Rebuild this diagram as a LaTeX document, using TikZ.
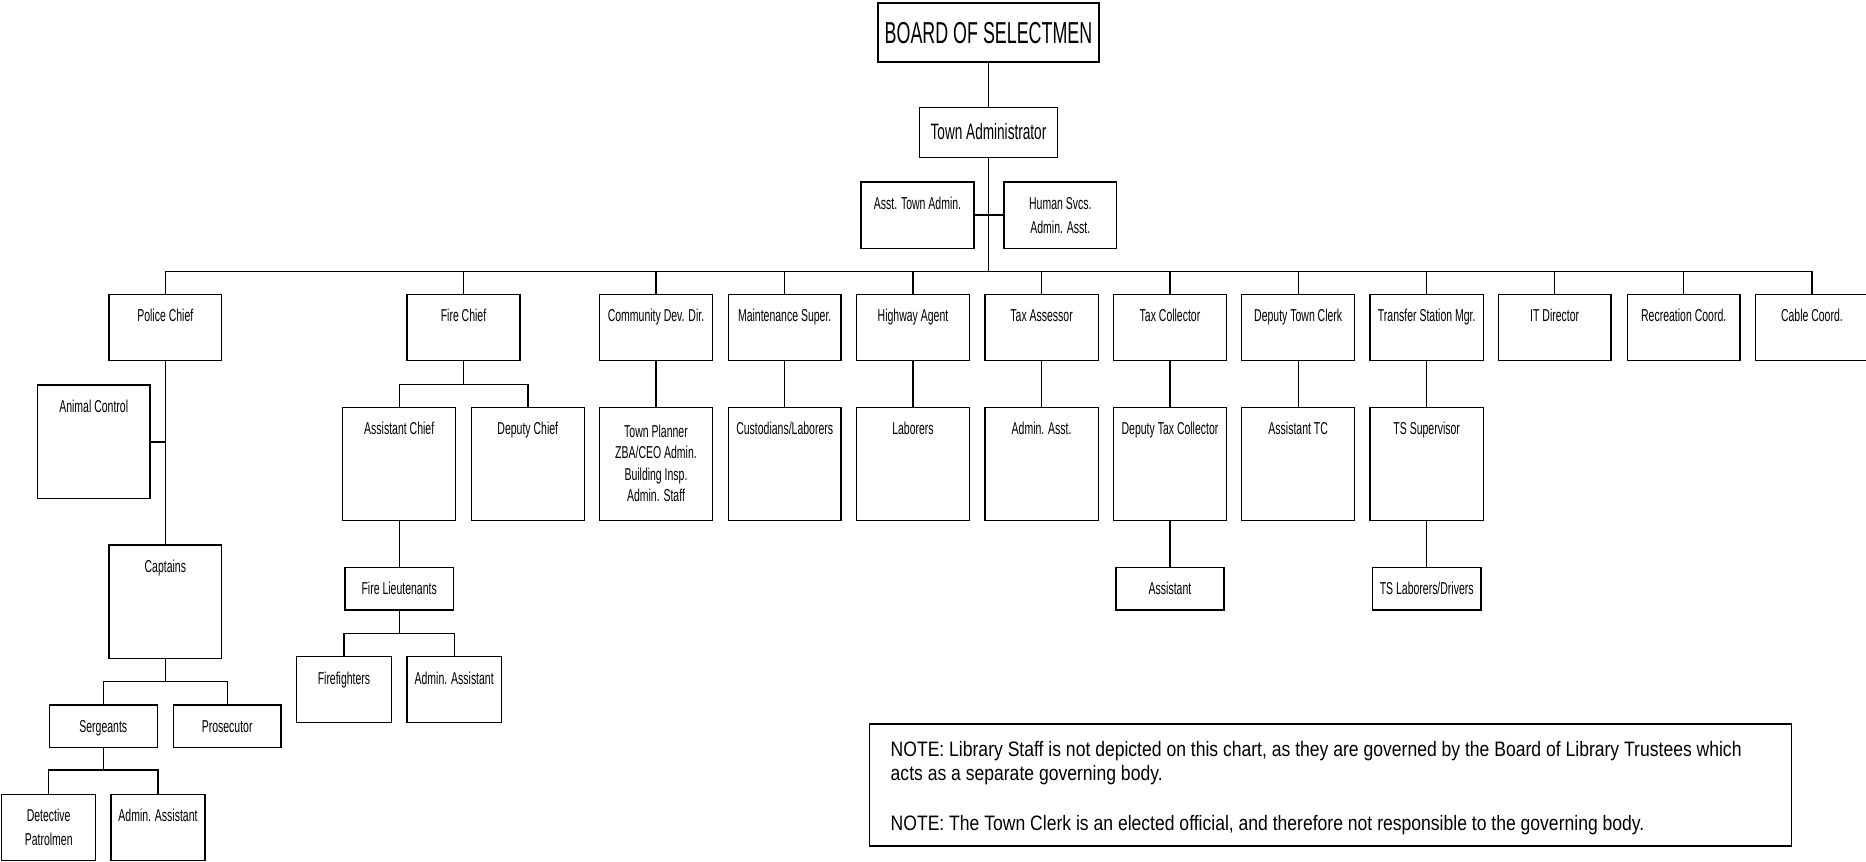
\documentclass[tikz,border=0pt]{standalone}
\usepackage{fontspec}
\setmainfont{Liberation Sans}
\newfontfamily\boxf[FakeStretch=0.61]{Liberation Sans}
\newfontfamily\bigf[FakeStretch=0.59]{Liberation Sans}
\newfontfamily\notef[FakeStretch=0.84]{Liberation Sans}
\newcommand\ml[1]{\begin{tabular}[t]{@{}c@{}}#1\end{tabular}}
\begin{document}
\begin{tikzpicture}[x=1pt,y=-1pt,
  box/.style={draw, line width=1.4pt, inner sep=0pt, outer sep=0pt, font=\boxf\fontsize{17.2}{24}\selectfont},
  sbox/.style={box, text height=27.4pt, text depth=39pt},
  tbox/.style={box, text height=27.4pt, text depth=86pt},
  cbox/.style={box, text height=27pt, text depth=15.5pt},
  link/.style={line width=1.4pt}]
\useasboundingbox (0,0) rectangle (1866,862);
\fill[white] (0,0) rectangle (1866,862);

% top
\node[box, line width=1.6pt, font=\bigf\fontsize{30.3}{36}\selectfont, minimum width=221pt, text height=40.3pt, text depth=18.7pt] (board) at (988.5,32.5) {BOARD OF SELECTMEN};
\node[box, font=\boxf\fontsize{22.3}{26}\selectfont, minimum width=138.4pt, text height=31.6pt, text depth=18pt] (ta) at (988.5,132.5) {Town Administrator};
\node[sbox, minimum width=113pt] (ata) at (917.5,215) {Asst. Town Admin.};
\node[sbox, minimum width=112.7pt] (hsa) at (1060.3,215) {\ml{Human Svcs.\\Admin. Asst.}};

% department heads
\node[sbox, minimum width=112.7pt] (pc) at (165.3,327.5) {Police Chief};
\node[sbox, minimum width=113pt] (fc) at (463.5,327.5) {Fire Chief};
\node[sbox, minimum width=112.6pt] (cd) at (656,327.5) {Community Dev. Dir.};
\node[sbox, minimum width=112.7pt] (ms) at (784.7,327.5) {Maintenance Super.};
\node[sbox, minimum width=112.6pt] (ha) at (913,327.5) {Highway Agent};
\node[sbox, minimum width=113.3pt] (tas) at (1041.6,327.5) {Tax Assessor};
\node[sbox, minimum width=113pt] (tc) at (1170,327.5) {Tax Collector};
\node[sbox, minimum width=112.9pt] (dtc) at (1298.2,327.5) {Deputy Town Clerk};
\node[sbox, minimum width=113.3pt] (tsm) at (1426.7,327.5) {Transfer Station Mgr.};
\node[sbox, minimum width=112.7pt] (it) at (1554.7,327.5) {IT Director};
\node[sbox, minimum width=112.7pt] (rc) at (1683.7,327.5) {Recreation Coord.};
\node[sbox, minimum width=113pt] (cc) at (1811.9,327.5) {Cable Coord.};

% second level
\node[tbox, minimum width=113pt] (ach) at (399.2,464) {Assistant Chief};
\node[tbox, minimum width=113pt] (dch) at (527.8,464) {Deputy Chief};
\node[box, font=\boxf\fontsize{17.2}{21.5}\selectfont, text height=30pt, text depth=83.4pt, minimum width=112.6pt] (tp) at (656,464) {\ml{Town Planner\\ZBA/CEO Admin.\\Building Insp.\\Admin. Staff}};
\node[tbox, minimum width=112.7pt] (cul) at (784.7,464) {Custodians/Laborers};
\node[tbox, minimum width=112.6pt] (lab) at (913,464) {Laborers};
\node[tbox, minimum width=113.3pt] (aa) at (1041.6,464) {Admin. Asst.};
\node[tbox, minimum width=113pt] (dtcol) at (1170,464) {Deputy Tax Collector};
\node[tbox, minimum width=112.9pt] (atc) at (1298.2,464) {Assistant TC};
\node[tbox, minimum width=113.3pt] (tss) at (1426.7,464) {TS Supervisor};

% third level
\node[cbox, minimum width=108.4pt] (fl) at (399.2,588.85) {Fire Lieutenants};
\node[cbox, minimum width=108.1pt] (asst) at (1170,588.85) {Assistant};
\node[cbox, minimum width=108.5pt] (tsl) at (1426.7,588.85) {TS Laborers/Drivers};
\node[sbox, minimum width=94.6pt, text depth=38.6pt] (ff) at (344,689.7) {Firefighters};
\node[sbox, minimum width=94.3pt, text depth=38.6pt] (fad) at (454.2,689.7) {Admin. Assistant};

% police
\node[tbox, minimum width=112.7pt] (ac) at (93.7,441.85) {Animal Control};
\node[tbox, minimum width=112.7pt] (cap) at (165.3,601.65) {Captains};
\node[cbox, minimum width=108pt] (serg) at (103.3,726.35) {Sergeants};
\node[cbox, minimum width=107.7pt] (pros) at (227.2,726.35) {Prosecutor};
\node[sbox, minimum width=94pt] (det) at (48.7,827.5) {\ml{Detective\\Patrolmen}};
\node[sbox, minimum width=94pt] (sadm) at (158,827.5) {Admin. Assistant};

% note
\node[draw, line width=1.4pt, inner xsep=21.4pt, inner ysep=0pt, outer sep=0pt, anchor=north west, text height=32.7pt, text depth=89.3pt, font=\notef\fontsize{20.9}{24}\selectfont] (note) at (869.3,724) {\begin{tabular}[t]{@{}p{879.6pt}@{}}NOTE: Library Staff is not depicted on this chart, as they are governed by the Board of Library Trustees which\\acts as a separate governing body.\\[25.3pt]NOTE: The Town Clerk is an elected official, and therefore not responsible to the governing body.\end{tabular}};

% connectors
\coordinate (busL) at (165.3,271.3);
\coordinate (busR) at (1811.9,271.3);
\draw[link] (board.south) -- (ta.north);
\draw[link] (ta.south) -- (ta.south |- busL);
\draw[link] (ata.east) -- (hsa.west);
\draw[link] (busL) -- (busR);
\foreach \n in {pc,fc,cd,ms,ha,tas,tc,dtc,tsm,it,rc,cc}
  \draw[link] (\n.north) -- (\n.north |- busL);

\draw[link] (pc.south) -- (cap.north);
\draw[link] (ac.east) -- (ac.east -| pc.south);
\draw[link] (cap.south) -- ++(0,23.4) -| (serg.north);
\draw[link] (cap.south) -- ++(0,23.4) -| (pros.north);
\draw[link] (serg.south) -- ++(0,22.4) -| (det.north);
\draw[link] (serg.south) -- ++(0,22.4) -| (sadm.north);

\draw[link] (fc.south) -- ++(0,23.6) -| (ach.north);
\draw[link] (fc.south) -- ++(0,23.6) -| (dch.north);
\draw[link] (ach.south) -- (fl.north);
\draw[link] (fl.south) -- ++(0,23.3) -| (ff.north);
\draw[link] (fl.south) -- ++(0,23.3) -| (fad.north);

\draw[link] (cd.south) -- (tp.north);
\draw[link] (ms.south) -- (cul.north);
\draw[link] (ha.south) -- (lab.north);
\draw[link] (tas.south) -- (aa.north);
\draw[link] (tc.south) -- (dtcol.north);
\draw[link] (dtcol.south) -- (asst.north);
\draw[link] (dtc.south) -- (atc.north);
\draw[link] (tsm.south) -- (tss.north);
\draw[link] (tss.south) -- (tsl.north);
\end{tikzpicture}
\end{document}
